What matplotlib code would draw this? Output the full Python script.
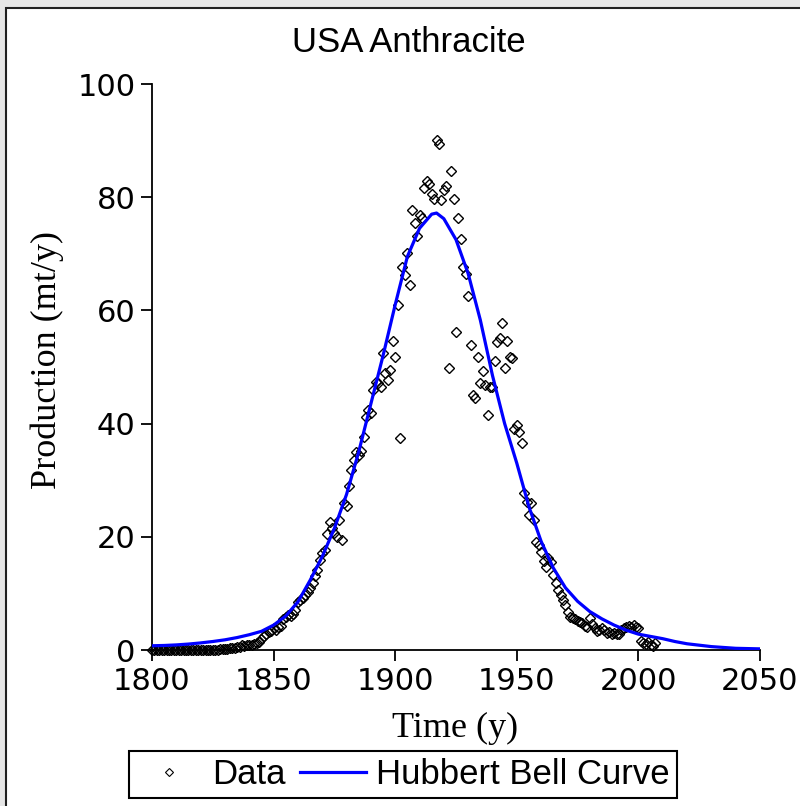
import matplotlib
matplotlib.use('Agg')
import matplotlib.pyplot as plt
from matplotlib.patches import Rectangle
from matplotlib.lines import Line2D

# annual production, 1800-2007 (mt/y)
years = list(range(1800, 2008))
production = (
    [0.0] * 20
    + [0, 0, 0, 0, 0, 0, 0, 0, 0.1, 0.1]
    + [0.2, 0.2, 0.3, 0.4, 0.3, 0.5, 0.6, 0.8, 0.7, 0.8]
    + [0.9, 0.9, 1.0, 1.2, 1.5, 2.0, 2.4, 2.8, 3.2, 3.3]
    + [3.9, 3.6, 4.1, 4.3, 5.4, 5.8, 6.1, 6.0, 6.4, 7.1]
    + [8.5, 8.9, 9.1, 9.8, 10.3, 11.0, 11.8, 13.0, 14.1, 15.9]
    + [17.1, 17.7, 20.5, 22.7, 21.5, 20.6, 20.0, 23.0, 19.4, 25.9]
    + [25.5, 28.9, 31.8, 33.5, 35.0, 34.5, 35.2, 37.7, 41.2, 42.4]
    + [41.8, 45.9, 47.4, 47.1, 46.5, 52.4, 48.9, 47.7, 49.5, 54.6]
    + [51.7, 61.0, 37.5, 67.7, 66.3, 70.1, 64.5, 77.7, 75.4, 73.1]
    + [76.9, 76.3, 81.6, 82.9, 82.4, 80.6, 79.6, 90.1, 89.4, 79.5]
    + [81.2, 81.9, 49.8, 84.7, 79.6, 56.1, 76.4, 72.6, 67.7, 66.5]
    + [62.6, 53.9, 45.1, 44.6, 51.7, 47.1, 49.3, 46.8, 41.5, 46.4]
    + [46.4, 51.1, 54.5, 55.1, 57.8, 49.8, 54.6, 51.8, 51.6, 39.0]
    + [39.8, 38.6, 36.5, 27.7, 26.2, 23.9, 26.0, 23.0, 19.1, 18.6]
    + [17.4, 15.8, 14.7, 16.2, 15.5, 13.3, 11.8, 10.6, 9.7, 8.8]
    + [8.0, 6.8, 5.9, 5.6, 5.4, 5.2, 5.0, 4.7, 4.2, 4.1]
    + [5.6, 4.6, 3.9, 3.3, 3.5, 3.9, 3.5, 3.0, 3.1, 2.8]
    + [3.0, 2.8, 2.9, 3.6, 3.9, 4.1, 4.2, 4.0, 4.4, 4.1]
    + [3.9, 1.6, 1.2, 1.1, 1.4, 0.8, 0.7, 1.2]
)

# fitted Hubbert curve
curve_years = [1800, 1805, 1810, 1815, 1820, 1825, 1830, 1835, 1840, 1845,
               1850, 1855, 1860, 1865, 1870, 1875, 1880, 1885, 1890, 1895,
               1900, 1905, 1910, 1915, 1917, 1920, 1925, 1930, 1935, 1940,
               1945, 1950, 1955, 1960, 1965, 1970, 1975, 1980, 1985, 1990,
               1995, 2000, 2005, 2010, 2015, 2020, 2030, 2040, 2050]
curve_values = [0.75, 0.8, 0.9, 1.05, 1.25, 1.5, 1.8, 2.2, 2.7, 3.3,
                4.4, 6.0, 8.5, 12.3, 16.5, 21.5, 27.5, 35.0, 43.5, 52.0,
                61.0, 69.5, 74.5, 77.0, 77.2, 76.2, 72.5, 66.5, 58.3, 48.5,
                40.0, 33.0, 25.3, 19.2, 14.5, 11.0, 8.6, 6.8, 5.5, 4.4,
                3.5, 2.8, 2.4, 2.0, 1.5, 1.1, 0.6, 0.3, 0.2]

W, H = 800, 806
fig = plt.figure(figsize=(W / 100, H / 100), dpi=100, facecolor='#e6e6e6')
fig.patches.append(Rectangle((6 / W, -0.05), 1.0, 1 - 8 / H + 0.05,
                             transform=fig.transFigure, facecolor='white',
                             edgecolor='#202020', lw=1.5, zorder=-10))

ax = fig.add_axes([152 / W, 1 - 650 / H, 608 / W, 566 / H])
ax.set_facecolor('none')
ax.plot(years, production, linestyle='none', marker='D', ms=5, mfc='none',
        mec='black', mew=1.0, clip_on=False, zorder=3)
ax.plot(curve_years, curve_values, color='#0000ff', lw=2.3, zorder=4)

ax.set_xlim(1800, 2050)
ax.set_ylim(0, 100)
ax.set_xticks([1800, 1850, 1900, 1950, 2000, 2050])
ax.set_yticks([0, 20, 40, 60, 80, 100])
for side in ['top', 'right']:
    ax.spines[side].set_visible(False)
for side in ['left', 'bottom']:
    ax.spines[side].set_linewidth(1.3)
ax.tick_params(direction='out', length=8, width=1.3, labelsize=22, pad=4)

fig.text(409 / W, 1 - 42 / H, 'USA Anthracite', ha='center', va='center',
         family='Liberation Sans', size=25)
fig.text(47 / W, 1 - 360 / H, 'Production (mt/y)', rotation=90,
         ha='center', va='center', family='Liberation Serif', size=26)
fig.text(455 / W, 1 - 728 / H, 'Time (y)', ha='center', va='center',
         family='Liberation Serif', size=26)

handles = [Line2D([], [], linestyle='none', marker='D', ms=4, mfc='none',
                  mec='black', mew=0.8),
           Line2D([], [], color='#0000ff', lw=2.3)]
leg = fig.legend(handles, ['Data', 'Hubbert Bell Curve'], loc='center',
                 bbox_to_anchor=(403 / W, 1 - 774.5 / H), ncol=2,
                 fancybox=False, edgecolor='black', framealpha=1,
                 prop={'family': 'Liberation Sans', 'size': 25},
                 handlelength=1.9, handletextpad=0.3, columnspacing=0.4,
                 borderpad=0.2, borderaxespad=0)
leg.get_frame().set_linewidth(1.5)

fig.savefig('out.png', dpi=100, facecolor=fig.get_facecolor())
